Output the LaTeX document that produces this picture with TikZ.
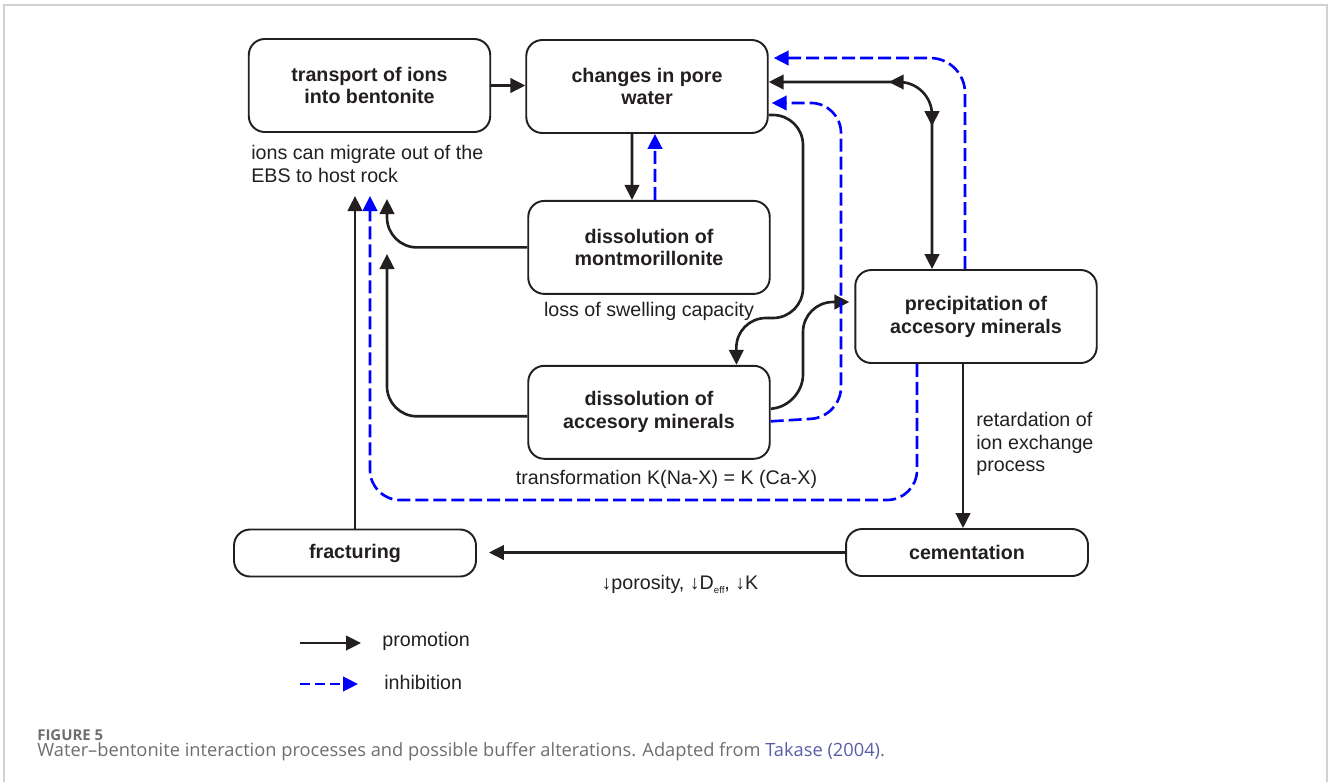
\documentclass[tikz,border=0pt]{standalone}
\usepackage{fontspec}
\setmainfont{Liberation Sans}
\newfontfamily\captionfont{Open Sans}
\usetikzlibrary{
    arrows.meta,
    positioning,
    calc,
    decorations.markings,
}

\definecolor{ink}{HTML}{231F20}
\definecolor{inhblue}{RGB}{0,0,255}
\definecolor{framegray}{HTML}{D2D2D2}
\definecolor{capgray}{HTML}{6D6E71}
\definecolor{linkblue}{HTML}{5B5EA6}

\begin{document}
\begin{tikzpicture}[
    x=0.02cm, y=-0.02cm,
    node distance= 1cm,
    >={Triangle[length=0.3cm, width=0.29cm]},
    process/.style={draw=ink, line width=1.1pt, rounded corners=0.32cm, align=center, text=ink, font=\fontsize{11.2}{13}\selectfont\bfseries},
    bigbox/.style={process, minimum width=4.83cm, minimum height=1.86cm},
    smallbox/.style={process, minimum width=4.84cm, minimum height=0.94cm},
    note/.style={inner sep=0pt, align=left, text=ink, font=\fontsize{11.2}{12.8}\selectfont},
    promo/.style={draw=ink, line width=1.5pt, ->},
    inhib/.style={draw=inhblue, line width=1.5pt, dash pattern=on 0.26cm off 0.1cm, ->},
]

\useasboundingbox (0,0) rectangle (1328,782);
\draw[framegray, line width=0.6pt] (4,782) -- (4,5) -- (1327,5) -- (1327,782);

\node[bigbox] (transport) at (369.5,85.5) {transport of ions\\into bentonite};
\node[bigbox] (pore) at (647,86.5) {changes in pore\\water};
\node[bigbox] (montmo) [below=1.32cm of pore, xshift=0.04cm] {dissolution of\\montmorillonite};
\node[bigbox] (accmin) [below=1.4cm of montmo] {dissolution of\\accesory minerals};
\node[bigbox] (precip) at (976,316.5) {precipitation of\\accesory minerals};
\node[smallbox] (cement) at (967,552.5) {cementation};
\node[smallbox] (fract) at (355,553) {fracturing};

\node[note, anchor=west] (migrate) at (251,164) {ions can migrate out of the\\EBS to host rock};
\node[note] (swell) [below=0.15cm of montmo] {loss of swelling capacity};
\node[note] (transf) [below=0.21cm of accmin, xshift=0.35cm] {transformation K(Na-X) = K (Ca-X)};
\node[note, anchor=west] (retard) at (976,444) {retardation of\\ion exchange\\process};
\node[note] (poros) at (680,584) {↓porosity, ↓D\raisebox{-0.4ex}{\fontsize{5.5}{6}\selectfont eff}, ↓K};

\coordinate (out1) at (355,196);
\coordinate (out2) at (370,196);
\coordinate (out3) at (387,199);
\coordinate (out4) at (387,254);

\draw[promo] (transport.east) -- (transport.east -| pore.west);
\draw[promo] ($(pore.south)+(-15,0)$) -- ($(montmo.north)+(-17,0)$);
\draw[inhib] ($(montmo.north)+(6,0)$) -- ($(pore.south)+(8,0)$);
\draw[promo, rounded corners=0.6cm] (montmo.west) -| (out3);
\draw[promo, rounded corners=0.6cm] ($(accmin.west)+(0,4)$) -| (out4);
\draw[promo] (fract) -- (out1);
\draw[inhib, rounded corners=0.6cm] ($(precip.south)+(-59,0)$) |- (370,500) -- (out2);
\draw[promo, shorten >=0.24cm] (cement.west) -- (cement.west -| fract.east);
\draw[promo] ($(precip.south)+(-13,0)$) -- ($(cement.north)+(-4,0)$);

\draw[promo, <->, rounded corners=0.66cm, postaction={decorate},
    decoration={markings,
        mark=at position 0.357 with {\arrowreversed{>}},
        mark=at position 0.575 with {\arrow{>}}}]
    ($(pore.east)+(0,-4.5)$) -| ($(precip.north)+(-44,0)$);
\draw[promo, rounded corners=0.6cm] ($(pore.east)+(0,28.5)$) -- (803,115) -- (803,318) -- (736,318) -- ($(accmin.north)+(87.5,0)$);
\draw[promo, rounded corners=0.6cm] ($(accmin.east)+(0,-3.5)$) -- (803,404.5) -- (803,302) -- ($(precip.west)+(-5,-14.5)$);
\draw[inhib, rounded corners=0.6cm] ($(accmin.east)+(0,9)$) -- (841,417) -- (841,103) -- ($(pore.east)+(3,16.5)$);
\draw[inhib, rounded corners=0.7cm] ($(precip.north)+(-11,0)$) -- (965,58) -- ($(pore.east)+(5,-28.5)$);

\coordinate (promoA) at (300,643);
\coordinate (promoB) at (361,643);
\coordinate (inhibA) at (300,684);
\coordinate (inhibB) at (358,684);
\draw[promo] (promoA) -- (promoB);
\draw[inhib, dash pattern=on 0.2cm off 0.1cm] (inhibA) -- (inhibB);
\node[note, anchor=west] (promotxt) at (382,641) {promotion};
\node[note, anchor=west] (inhibtxt) at (384,682) {inhibition};

\node[anchor=west, inner sep=0pt, text=capgray, font=\captionfont\fontsize{8.5}{10}\selectfont\bfseries] (figlabel) at (37,735) {FIGURE 5};
\node[anchor=west, inner sep=0pt, text=capgray, font=\captionfont\fontsize{10.4}{12}\selectfont] (caption) at (37,752) {Water–bentonite interaction processes and possible buffer alterations. Adapted from \textcolor{linkblue}{Takase (2004)}.};

\end{tikzpicture}
\end{document}
